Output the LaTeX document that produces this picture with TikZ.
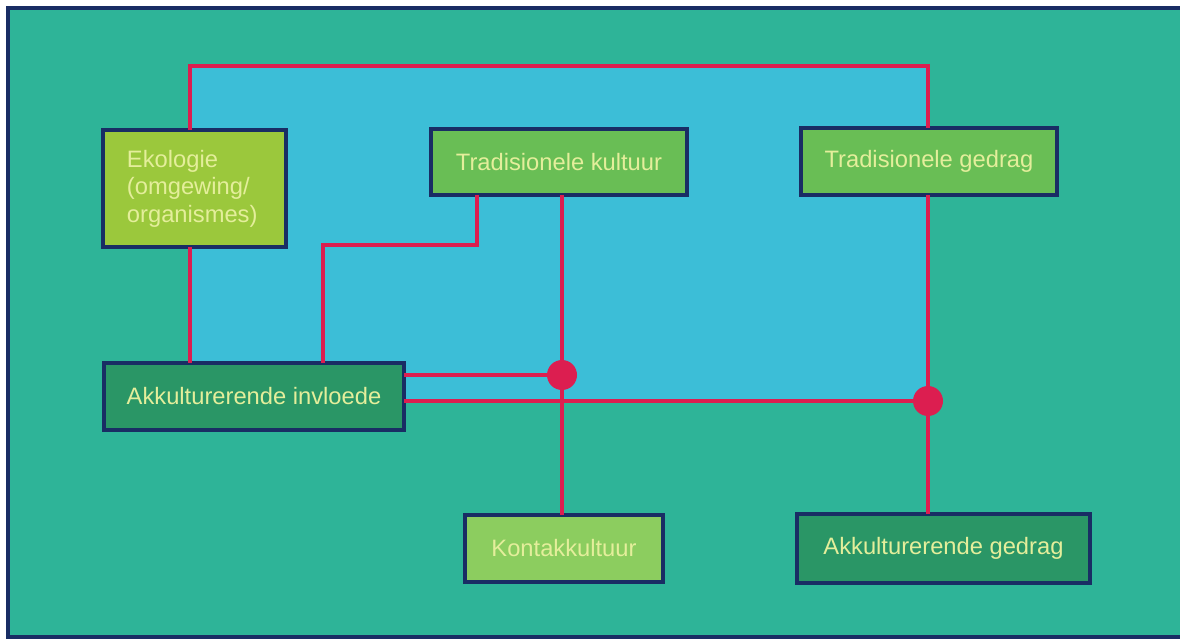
\documentclass[tikz,border=0pt]{standalone}
\usepackage{fontspec}
\setmainfont{Liberation Sans}
\usepackage{tikz}

\definecolor{bgteal}{RGB}{46,180,152}
\definecolor{bgblue}{RGB}{60,190,215}
\definecolor{linkred}{RGB}{220,30,80}
\definecolor{boxnavy}{RGB}{25,45,100}
\definecolor{txtpale}{RGB}{228,238,155}
\definecolor{ekofill}{RGB}{155,200,60}
\definecolor{tradfill}{RGB}{105,190,85}
\definecolor{akkfill}{RGB}{42,150,102}
\definecolor{kontfill}{RGB}{140,205,95}

\begin{document}
\begin{tikzpicture}[x=0.2mm,y=-0.2mm,
	box/.style={draw=boxnavy,line width=2.3pt,text=txtpale,inner sep=0,outer sep=0,
		font=\fontsize{13.5}{15.6}\selectfont},
	link/.style={draw=linkred,line width=2pt},
	dot/.style={circle,fill=linkred,inner sep=0,outer sep=0,minimum size=0.6cm}]
	\useasboundingbox (0,0) rectangle (1180,639);
	\fill[white] (0,0) rectangle (1180,639);
	\draw[fill=bgteal,draw=boxnavy,line width=2pt] (8,8) rectangle (1182,637);
	\fill[bgblue] (190,66) rectangle (928,401);
	\coordinate (c1) at (190,66);
	\coordinate (c2) at (928,66);
	\coordinate (c3) at (477,245);
	\coordinate (c4) at (323,245);
	\node[box,fill=ekofill,minimum width=3.66cm,minimum height=2.34cm] (eko) at (194.5,188.5)
		{\parbox{2.7cm}{Ekologie\\(omgewing/\\organismes)}};
	\node[box,fill=tradfill,minimum width=5.12cm,minimum height=1.32cm] (tk) at (559,162) {Tradisionele kultuur};
	\node[box,fill=tradfill,minimum width=5.12cm,minimum height=1.34cm] (tg) at (929,161.5) {Tradisionele gedrag};
	\node[box,fill=akkfill,minimum width=6cm,minimum height=1.34cm] (ai) at (254,396.5) {Akkulturerende invloede};
	\node[box,fill=kontfill,minimum width=3.96cm,minimum height=1.34cm] (kk) at (564,548.5) {Kontakkultuur};
	\node[box,fill=akkfill,minimum width=5.86cm,minimum height=1.38cm] (ag) at (943.5,548.5) {Akkulturerende gedrag};
	\node[dot] (d1) at (562,375) {};
	\node[dot] (d2) at (928,401) {};
	\draw[link] (eko.north -| c1) -- (c1) -- (c2) -- (tg.north -| c2);
	\draw[link] (eko.south -| c1) -- (ai.north -| c1);
	\draw[link] (tk.south -| c3) -- (c3) -- (c4) -- (ai.north -| c4);
	\draw[link] (tk.south -| d1) -- (d1);
	\draw[link] (d1) -- (kk.north -| d1);
	\draw[link] (ai.east |- d1) -- (d1);
	\draw[link] (ai.east |- d2) -- (d2);
	\draw[link] (tg.south -| d2) -- (d2);
	\draw[link] (d2) -- (ag.north -| d2);
\end{tikzpicture}
\end{document}
